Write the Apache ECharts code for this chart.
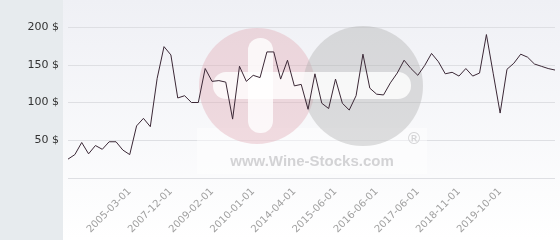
<!DOCTYPE html>
<html>
<head>
<meta charset="utf-8">
<script src="https://cdn.jsdelivr.net/npm/echarts@6/dist/echarts.min.js"></script>
<style>
html,body{margin:0;padding:0;background:#fff;}
#chart{width:560px;height:240px;}
</style>
</head>
<body>
<div id="chart"></div>
<script>
// Tick labels shown on the x axis (every 6th point starting at point 9)
var tickLabels = ['2005-03-01','2007-12-01','2009-02-01','2010-01-01','2014-04-01','2015-06-01','2016-06-01','2017-06-01','2018-11-01','2019-10-01'];
var firstLabelIndex = 9;
var labelStep = 6;

// Price values (USD)
var prices = [
  25, 31, 47, 32, 43, 38, 48, 48, 37, 31,
  69, 79, 68, 132, 174, 163, 106, 109, 100, 100,
  145, 128, 129, 127, 78, 148, 128, 136, 133, 167,
  167, 131, 156, 122, 124, 91, 138, 99, 92, 131,
  99, 90, 109, 164, 119, 111, 110, 126, 139, 156,
  145, 136, 149, 165, 154, 138, 140, 135, 145, 135,
  139, 190, 138, 86, 144, 152, 164, 160, 151, 148,
  145, 143
];

// Categories: one per price point; labeled ones carry their date
var categories = prices.map(function (v, i) {
  var k = (i - firstLabelIndex) / labelStep;
  return (k >= 0 && k === Math.floor(k) && k < tickLabels.length) ? tickLabels[k] : ('#' + i);
});

var yTicks = [0, 50, 100, 150, 200];

var chart = echarts.init(document.getElementById('chart'), null, {renderer: 'canvas'});
chart.setOption({
  animation: false,
  backgroundColor: '#ffffff',
  graphic: [
    { type: 'rect', z: -10, silent: true, shape: {x: 63, y: 0, width: 497, height: 240},
      style: { fill: new echarts.graphic.LinearGradient(0, 0, 0, 1, [{offset: 0, color: '#eff0f5'}, {offset: 1, color: '#ffffff'}]) } },
    { type: 'rect', z: -10, silent: true, shape: {x: 0, y: 0, width: 63, height: 240}, style: {fill: '#e7ebee'} },
    // watermark
    { type: 'rect', z: 1, silent: true, shape: {x: 197, y: 128, width: 230, height: 46}, style: {fill: 'rgba(255,255,255,0.45)'} },
    { type: 'circle', z: 1, silent: true, shape: {cx: 257, cy: 86, r: 58}, style: {fill: 'rgba(225,171,181,0.4)'} },
    { type: 'circle', z: 1, silent: true, shape: {cx: 363, cy: 86, r: 60}, style: {fill: 'rgba(176,176,176,0.4)'} },
    { type: 'rect', z: 1, silent: true, shape: {x: 213, y: 72, width: 198, height: 27, r: 13}, style: {fill: 'rgba(255,255,255,0.8)'} },
    { type: 'rect', z: 1, silent: true, shape: {x: 248, y: 38, width: 25, height: 95, r: 12}, style: {fill: 'rgba(255,255,255,0.8)'} },
    { type: 'text', z: 1, silent: true, style: {text: 'www.Wine-Stocks.com', x: 312, y: 162, align: 'center', verticalAlign: 'middle',
      font: 'bold 15px "Liberation Sans", Arial, sans-serif', fill: '#d3d3d5'} },
    { type: 'text', z: 1, silent: true, style: {text: '®', x: 414, y: 140, align: 'center', verticalAlign: 'middle',
      font: '16px "DejaVu Sans", sans-serif', fill: '#d3d3d5'} }
  ],
  grid: { left: 68, right: 5, top: 27, bottom: 62, containLabel: false },
  xAxis: {
    type: 'category',
    data: categories,
    boundaryGap: false,
    axisLine: {show: false},
    axisTick: {show: false},
    splitLine: {show: false},
    axisLabel: {
      interval: function (i) {
        var k = (i - firstLabelIndex) / labelStep;
        return k >= 0 && k === Math.floor(k) && k < tickLabels.length;
      },
      rotate: 45,
      margin: 12,
      color: '#a0a0a0',
      fontSize: 10,
      fontFamily: 'DejaVu Sans'
    }
  },
  yAxis: {
    type: 'value',
    min: yTicks[0],
    max: yTicks[yTicks.length - 1],
    interval: 50,
    axisLine: {show: false},
    axisTick: {show: false},
    splitLine: {lineStyle: {color: '#dedfe3', width: 1}},
    axisLabel: {
      margin: 9,
      color: '#333333',
      fontSize: 11,
      fontFamily: 'DejaVu Sans',
      formatter: function (v) { return v === 0 ? '' : v + ' $'; }
    }
  },
  series: [{
    type: 'line',
    data: prices,
    z: 5,
    showSymbol: false,
    lineStyle: {color: '#3b2836', width: 1},
    silent: true
  }]
});
</script>
</body>
</html>
